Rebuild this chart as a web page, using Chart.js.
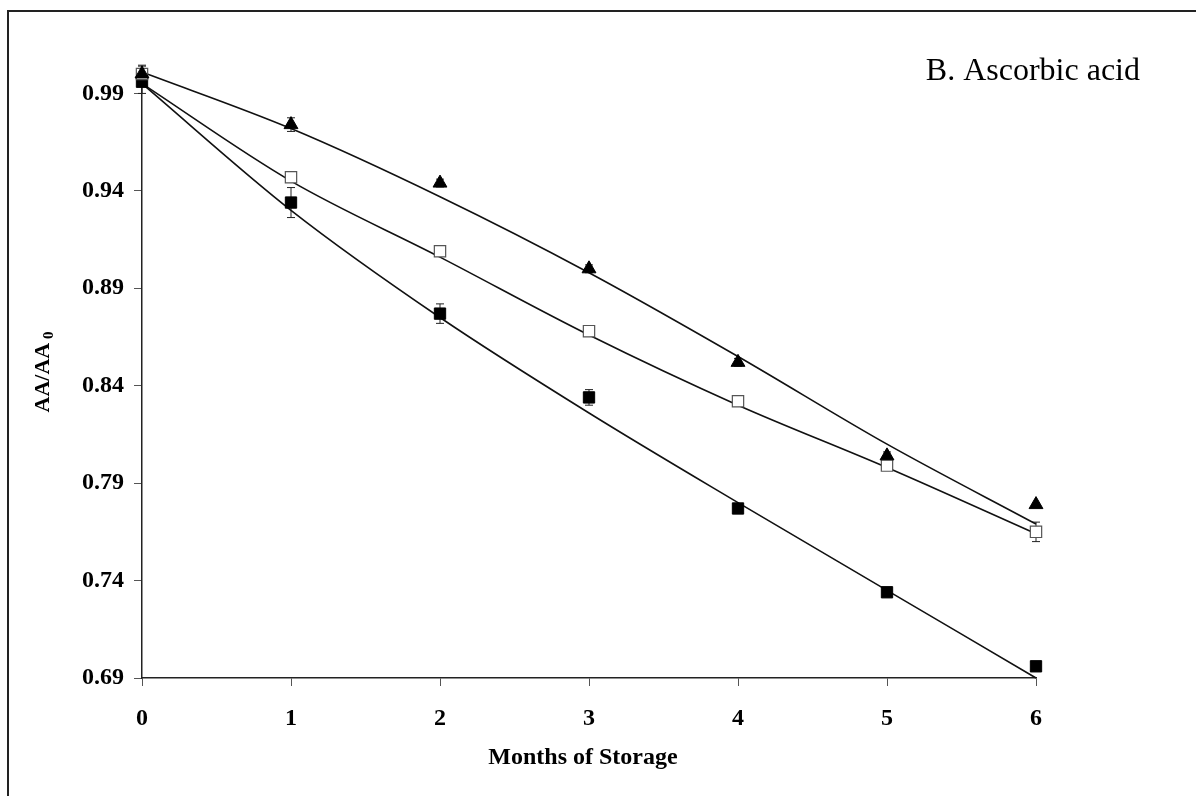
<!DOCTYPE html>
<html>
<head>
<meta charset="utf-8">
<script src="https://cdn.jsdelivr.net/npm/chart.js@4/dist/chart.umd.min.js"></script>
<style>
  html, body { margin: 0; padding: 0; background: #fff; }
  #wrap { position: relative; width: 1196px; height: 796px; }
  #frame {
    position: absolute; left: 7px; top: 10px; right: 0; bottom: 0;
    border-left: 2px solid #222; border-top: 2px solid #222;
    pointer-events: none;
  }
</style>
</head>
<body>
<div id="wrap">
  <canvas id="aa-chart" width="1196" height="796"></canvas>
  <div id="frame"></div>
</div>
<script>
// Months of storage (x values)
const months = [0, 1, 2, 3, 4, 5, 6];
const yTicks = [0.69, 0.74, 0.79, 0.84, 0.89, 0.94, 0.99];

// Measured AA/AA0 with error bars
const triMean  = [1.000, 0.974, 0.944, 0.900, 0.852, 0.804, 0.779];
const triErr   = [0.004, 0.0035, 0.002, 0.002, 0.002, 0.002, 0.000];
const openMean = [1.000, 0.947, 0.909, 0.868, 0.832, 0.799, 0.765];
const openErr  = [0.0045, 0.002, 0.002, 0.002, 0.002, 0.002, 0.005];
const fillMean = [0.996, 0.934, 0.877, 0.834, 0.777, 0.734, 0.696];
const fillErr  = [0.006, 0.0077, 0.005, 0.004, 0.002, 0.002, 0.002];

// Fitted trend lines read at each month
const triFit  = [1.001, 0.972, 0.937, 0.898, 0.855, 0.810, 0.769];
const openFit = [0.995, 0.945, 0.906, 0.866, 0.830, 0.798, 0.764];
const fillFit = [0.995, 0.930, 0.875, 0.826, 0.780, 0.735, 0.690];

const serif = '"Liberation Serif", "Times New Roman", serif';

function toPoints(ys) {
    return months.map((m, i) => ({ x: m, y: ys[i] }));
}

function fitLine(ys) {
    return {
        data: toPoints(ys),
        borderColor: '#111',
        borderWidth: 1.6,
        pointRadius: 0,
        cubicInterpolationMode: 'monotone',
        showLine: true,
        clip: false,
        order: 5
    };
}

// Draws vertical error bars with small caps, under the markers
const errorBars = {
    id: 'errorBars',
    beforeDatasetsDraw(chart) {
        const { ctx, scales: { x, y } } = chart;
        const sets = [[fillMean, fillErr], [openMean, openErr], [triMean, triErr]];
        ctx.save();
        ctx.strokeStyle = '#222';
        ctx.lineWidth = 1;
        sets.forEach(([mean, err]) => {
            mean.forEach((v, i) => {
                if (!err[i]) return;
                const px = x.getPixelForValue(months[i]);
                const top = y.getPixelForValue(v + err[i]);
                const bot = y.getPixelForValue(v - err[i]);
                ctx.beginPath();
                ctx.moveTo(px, top); ctx.lineTo(px, bot);
                ctx.moveTo(px - 4, top); ctx.lineTo(px + 4, top);
                ctx.moveTo(px - 4, bot); ctx.lineTo(px + 4, bot);
                ctx.stroke();
            });
        });
        ctx.restore();
    }
};

// Axis titles and panel label
const labels = {
    id: 'labels',
    afterDraw(chart) {
        const { ctx } = chart;
        ctx.save();
        ctx.fillStyle = '#000';
        ctx.textAlign = 'center';
        ctx.textBaseline = 'middle';
        ctx.font = 'bold 24px ' + serif;
        ctx.fillText('Months of Storage', 583, 758);

        ctx.textAlign = 'right';
        ctx.textBaseline = 'alphabetic';
        ctx.font = '32px ' + serif;
        ctx.fillText('B. Ascorbic acid', 1140, 80);

        // rotated y title with subscript
        ctx.translate(49, 372);
        ctx.rotate(-Math.PI / 2);
        ctx.textAlign = 'left';
        ctx.font = 'bold 22px ' + serif;
        const main = 'AA/AA';
        const w = ctx.measureText(main).width;
        ctx.font = 'bold 15px ' + serif;
        const sw = ctx.measureText(' 0').width;
        const start = -(w + sw) / 2;
        ctx.font = 'bold 22px ' + serif;
        ctx.fillText(main, start, 0);
        ctx.font = 'bold 15px ' + serif;
        ctx.fillText(' 0', start + w, 4);
        ctx.restore();
    }
};

new Chart(document.getElementById('aa-chart'), {
    type: 'scatter',
    data: {
        datasets: [
            {
                data: toPoints(triMean),
                pointStyle: 'triangle',
                pointRadius: 8,
                pointBackgroundColor: '#000',
                pointBorderColor: '#000',
                pointBorderWidth: 1,
                clip: false,
                order: 0
            },
            {
                data: toPoints(openMean),
                pointStyle: 'rect',
                pointRadius: 8,
                pointBackgroundColor: '#fff',
                pointBorderColor: '#555',
                pointBorderWidth: 1.2,
                clip: false,
                order: 1
            },
            {
                data: toPoints(fillMean),
                pointStyle: 'rect',
                pointRadius: 8,
                pointBackgroundColor: '#000',
                pointBorderColor: '#000',
                pointBorderWidth: 1,
                clip: false,
                order: 2
            },
            fitLine(triFit),
            fitLine(openFit),
            fitLine(fillFit)
        ]
    },
    options: {
        responsive: false,
        animation: false,
        layout: { padding: { left: 0, top: 72, right: 160, bottom: 0 } },
        plugins: {
            legend: { display: false },
            tooltip: { enabled: false }
        },
        scales: {
            x: {
                type: 'linear',
                min: 0,
                max: 6,
                afterFit(scale) { scale.height = 118; },
                afterBuildTicks(scale) {
                    scale.ticks = months.map(v => ({ value: v }));
                },
                grid: {
                    drawOnChartArea: false,
                    drawTicks: true,
                    tickLength: 8,
                    tickColor: '#555',
                    tickWidth: 1
                },
                border: { color: '#222', width: 1.5 },
                ticks: {
                    color: '#000',
                    padding: 18,
                    font: { family: serif, size: 24, weight: 'bold' },
                    callback: v => String(v)
                }
            },
            y: {
                type: 'linear',
                min: 0.69,
                max: 1.001,
                afterFit(scale) { scale.width = 142; },
                afterBuildTicks(scale) {
                    scale.ticks = yTicks.map(v => ({ value: v }));
                },
                grid: {
                    drawOnChartArea: false,
                    drawTicks: true,
                    tickLength: 8,
                    tickColor: '#555',
                    tickWidth: 1
                },
                border: { color: '#222', width: 1.5 },
                ticks: {
                    color: '#000',
                    padding: 10,
                    font: { family: serif, size: 24, weight: 'bold' },
                    callback: v => v.toFixed(2)
                }
            }
        }
    },
    plugins: [errorBars, labels]
});
</script>
</body>
</html>
